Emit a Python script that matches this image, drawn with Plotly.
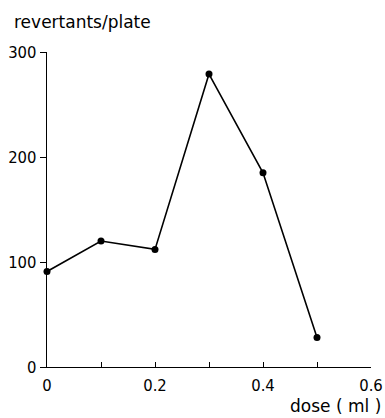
import plotly.graph_objects as go

dose = [0, 0.1, 0.2, 0.3, 0.4, 0.5]
revertants = [91, 120, 112, 279, 185, 28]

x_tickvals = [0, 0.1, 0.2, 0.3, 0.4, 0.5, 0.6]
x_ticktext = ["0", "", "0.2", "", "0.4", "", "0.6"]
y_tickvals = [0, 100, 200, 300]
y_ticktext = ["0", "100", "200", "300"]

TICK_FONT = "DejaVu Sans Condensed, DejaVu Sans"
TITLE_FONT = "DejaVu Sans"

W, H = 385, 418
L, R, T, B = 47, 14, 52, 51
PW, PH = W - L - R, H - T - B

fig = go.Figure()
fig.add_trace(go.Scatter(
    x=dose, y=revertants, mode="lines+markers",
    line=dict(color="black", width=1.6),
    marker=dict(color="black", size=7),
    cliponaxis=False,
))

fig.update_layout(
    width=W, height=H,
    margin=dict(l=L, r=R, t=T, b=B, pad=0),
    paper_bgcolor="white", plot_bgcolor="white",
    showlegend=False,
    font=dict(family=TICK_FONT, size=16.5, color="black"),
    xaxis=dict(
        range=[0, 0.6], tickvals=x_tickvals, ticktext=x_ticktext,
        ticks="inside", ticklen=5, tickwidth=1.2, tickcolor="black",
        showline=True, linecolor="black", linewidth=1.4,
        showgrid=False, zeroline=False, automargin=False,
        ticklabelstandoff=3,
    ),
    yaxis=dict(
        range=[0, 300], tickvals=y_tickvals, ticktext=y_ticktext,
        ticks="outside", ticklen=6, tickwidth=1.2, tickcolor="black",
        showline=True, linecolor="black", linewidth=1.4,
        showgrid=False, zeroline=False, automargin=False,
    ),
    annotations=[
        dict(text="revertants/plate", xref="paper", yref="paper",
             x=(12 - L) / PW, y=(PH + T - 22) / PH, xanchor="left", yanchor="middle",
             showarrow=False, font=dict(family=TITLE_FONT, size=17)),
        dict(text="dose ( ml )", xref="paper", yref="paper",
             x=(383 - L) / PW, y=(PH + T - 406) / PH, xanchor="right", yanchor="middle",
             showarrow=False, font=dict(family=TITLE_FONT, size=17)),
    ],
)

fig.write_html("out.html", config={"displayModeBar": False},
               post_script="document.body.style.margin='0px';")
